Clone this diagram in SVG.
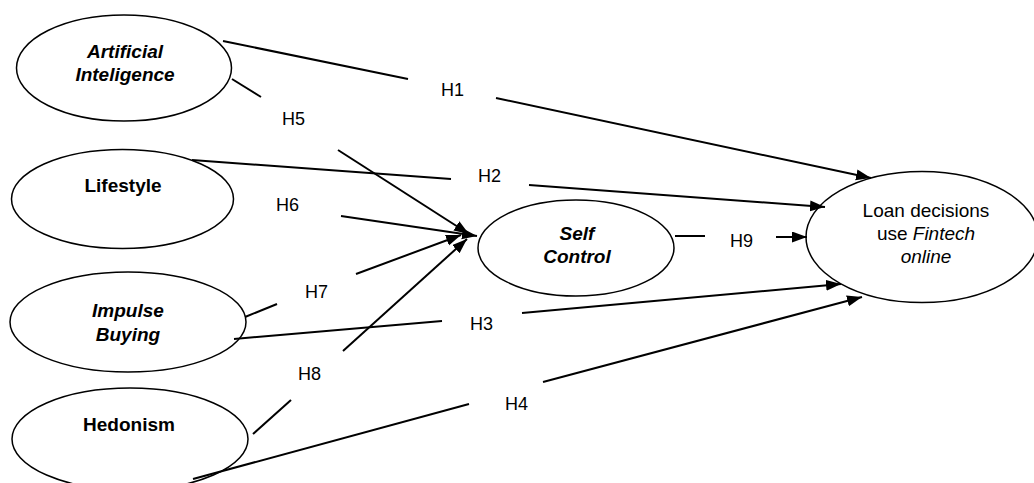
<svg xmlns="http://www.w3.org/2000/svg" width="1034" height="483" viewBox="0 0 1034 483">
<style>
.node ellipse{fill:#fff;stroke:#000;stroke-width:1.5}
.t{font-family:"Liberation Sans",Arial,sans-serif;font-size:19px;fill:#000;text-anchor:middle}
.b{font-weight:bold}
.i{font-style:italic}
.lbl{font-family:"Liberation Sans",Arial,sans-serif;font-size:18px;fill:#000}
#connectors line{stroke:#000;stroke-width:2;fill:none}
</style>
<defs>
<marker id="arr" markerUnits="userSpaceOnUse" markerWidth="16" markerHeight="12" refX="15" refY="5.5" orient="auto">
<path d="M0,0 L15,5.5 L0,11 z" fill="#000"/>
</marker>
</defs>
<rect width="1034" height="483" fill="#fff"/>
<g id="node-ai" class="node">
<ellipse cx="124" cy="68" rx="107.5" ry="53"/>
<text class="t b i" x="125" y="58">Artificial</text>
<text class="t b i" x="125" y="81">Inteligence</text>
</g>
<g id="node-lifestyle" class="node">
<ellipse cx="122.5" cy="199" rx="111" ry="49.5"/>
<text class="t b" x="123" y="192">Lifestyle</text>
</g>
<g id="node-impulse" class="node">
<ellipse cx="128" cy="322" rx="118" ry="50"/>
<text class="t b i" x="128" y="317">Impulse</text>
<text class="t b i" x="128" y="341">Buying</text>
</g>
<g id="node-hedonism" class="node">
<ellipse cx="130" cy="439" rx="118" ry="51"/>
<text class="t b" x="129" y="431">Hedonism</text>
</g>
<g id="node-selfcontrol" class="node">
<ellipse cx="576" cy="248" rx="98" ry="48"/>
<text class="t b i" x="577" y="240">Self</text>
<text class="t b i" x="577" y="263">Control</text>
</g>
<g id="node-loan" class="node">
<ellipse cx="922" cy="237" rx="116" ry="65.5"/>
<text class="t" x="926" y="217">Loan decisions</text>
<text class="t" x="926" y="240">use <tspan class="i">Fintech</tspan></text>
<text class="t i" x="926" y="263">online</text>
</g>
<g id="connectors">
<!-- H1 -->
<line x1="223" y1="41" x2="408" y2="79"/>
<line x1="496" y1="98" x2="871" y2="178" marker-end="url(#arr)"/>
<!-- H5 -->
<line x1="232" y1="79" x2="261" y2="97"/>
<line x1="338" y1="150" x2="469" y2="234" marker-end="url(#arr)"/>
<!-- H2 -->
<line x1="192" y1="160" x2="451" y2="179"/>
<line x1="529" y1="185" x2="825" y2="207" marker-end="url(#arr)"/>
<!-- H6 -->
<line x1="341" y1="216" x2="477" y2="236" marker-end="url(#arr)"/>
<!-- H7 -->
<line x1="245" y1="317" x2="277" y2="304"/>
<line x1="356" y1="274" x2="461" y2="235" marker-end="url(#arr)"/>
<!-- H8 -->
<line x1="253" y1="434" x2="291" y2="400"/>
<line x1="343" y1="351" x2="467" y2="239" marker-end="url(#arr)"/>
<!-- H3 -->
<line x1="234" y1="339" x2="442" y2="321"/>
<line x1="522" y1="313" x2="841" y2="284" marker-end="url(#arr)"/>
<!-- H4 -->
<line x1="193" y1="479" x2="469" y2="404"/>
<line x1="543" y1="382" x2="862" y2="297" marker-end="url(#arr)"/>
<!-- H9 -->
<line x1="675" y1="236" x2="705" y2="236"/>
<line x1="776" y1="237" x2="807" y2="237" marker-end="url(#arr)"/>
</g>
<g id="labels">
<text class="lbl" x="441" y="96">H1</text>
<text class="lbl" x="282" y="125">H5</text>
<text class="lbl" x="478" y="182">H2</text>
<text class="lbl" x="276" y="211">H6</text>
<text class="lbl" x="305" y="298">H7</text>
<text class="lbl" x="470" y="330">H3</text>
<text class="lbl" x="298" y="380">H8</text>
<text class="lbl" x="505" y="410">H4</text>
<text class="lbl" x="730" y="247">H9</text>
</g>
</svg>
